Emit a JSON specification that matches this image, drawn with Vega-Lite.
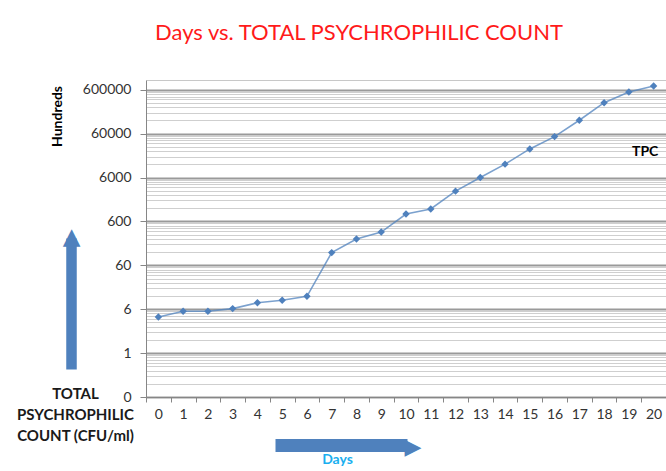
{
  "$schema": "https://vega.github.io/schema/vega-lite/v6.json",
  "width": 520,
  "height": 317,
  "autosize": {"type": "none"},
  "padding": {"left": 146, "top": 80, "right": 0, "bottom": 74},
  "background": "white",
  "view": {"stroke": null},
  "title": {
    "text": "Days vs. TOTAL PSYCHROPHILIC COUNT",
    "anchor": "middle",
    "dx": -47,
    "offset": 18,
    "baseline": "alphabetic",
    "font": "Lato",
    "fontSize": 22,
    "fontWeight": "normal",
    "color": "#FF1A1A"
  },
  "data": {
    "values": [
      {"day": 0, "tpc": 4.0, "series": "TPC"},
      {"day": 1, "tpc": 5.4, "series": "TPC"},
      {"day": 2, "tpc": 5.4, "series": "TPC"},
      {"day": 3, "tpc": 6.2, "series": "TPC"},
      {"day": 4, "tpc": 8.4, "series": "TPC"},
      {"day": 5, "tpc": 9.6, "series": "TPC"},
      {"day": 6, "tpc": 11.8, "series": "TPC"},
      {"day": 7, "tpc": 117, "series": "TPC"},
      {"day": 8, "tpc": 239, "series": "TPC"},
      {"day": 9, "tpc": 344, "series": "TPC"},
      {"day": 10, "tpc": 883, "series": "TPC"},
      {"day": 11, "tpc": 1150, "series": "TPC"},
      {"day": 12, "tpc": 2940, "series": "TPC"},
      {"day": 13, "tpc": 6000, "series": "TPC"},
      {"day": 14, "tpc": 12100, "series": "TPC"},
      {"day": 15, "tpc": 26900, "series": "TPC"},
      {"day": 16, "tpc": 51300, "series": "TPC"},
      {"day": 17, "tpc": 121000, "series": "TPC"},
      {"day": 18, "tpc": 304000, "series": "TPC"},
      {"day": 19, "tpc": 532000, "series": "TPC"},
      {"day": 20, "tpc": 728000, "series": "TPC"}
    ]
  },
  "resolve": {"axis": {"x": "independent", "y": "independent"}},
  "layer": [
    {
      "mark": {
        "type": "line",
        "strokeWidth": 1.6,
        "opacity": 0.75,
        "point": {"shape": "diamond", "size": 55, "filled": true, "opacity": 1}
      },
      "encoding": {
        "x": {
          "field": "day",
          "type": "ordinal",
          "scale": {"type": "band", "paddingInner": 0, "paddingOuter": 0},
          "axis": {
            "orient": "bottom",
            "labelAngle": 0,
            "tickBand": "extent",
            "tickSize": 5,
            "tickColor": "#868686",
            "domainColor": "#868686",
            "grid": false,
            "labelFont": "Lato",
            "labelFontSize": 14,
            "labelColor": "#333333",
            "labelPadding": 5,
            "title": "Days",
            "titleFont": "Lato",
            "titleFontSize": 14,
            "titleFontWeight": "bold",
            "titleColor": "#1AAFEF",
            "titleAlign": "center",
            "titleBaseline": "middle",
            "titleX": 191,
            "titleY": 62
          }
        },
        "y": {
          "field": "tpc",
          "type": "quantitative",
          "scale": {"type": "log", "domain": [0.06, 1000000], "nice": false},
          "axis": {
            "orient": "left",
            "values": [0.06, 0.12, 0.18, 0.24, 0.3, 0.36, 0.42, 0.48, 0.54,
                       0.6, 1.2, 1.8, 2.4, 3, 3.6, 4.2, 4.8, 5.4,
                       6, 12, 18, 24, 30, 36, 42, 48, 54,
                       60, 120, 180, 240, 300, 360, 420, 480, 540,
                       600, 1200, 1800, 2400, 3000, 3600, 4200, 4800, 5400,
                       6000, 12000, 18000, 24000, 30000, 36000, 42000, 48000, 54000,
                       60000, 120000, 180000, 240000, 300000, 360000, 420000, 480000, 540000,
                       600000],
            "labelExpr": "indexof([0.06,0.6,6,60,600,6000,60000,600000], datum.value) >= 0 ? format(datum.value, 'd') : ''",
            "labelOverlap": false,
            "labelBound": false,
            "labelFont": "Lato",
            "labelFontSize": 14,
            "labelColor": "#333333",
            "labelPadding": 9,
            "tickSize": 6,
            "tickColor": "#868686",
            "tickOpacity": {"condition": {"test": "indexof([0.06,0.6,6,60,600,6000,60000,600000], datum.value) >= 0", "value": 1}, "value": 0},
            "domainColor": "#868686",
            "grid": true,
            "gridColor": {"condition": {"test": "indexof([0.06,0.6,6,60,600,6000,60000,600000], datum.value) >= 0", "value": "#9a9a9a"}, "value": "#cfcfcf"},
            "gridWidth": {"condition": {"test": "indexof([0.06,0.6,6,60,600,6000,60000,600000], datum.value) >= 0", "value": 2}, "value": 1},
            "title": "Hundreds",
            "titleFont": "Lato",
            "titleFontSize": 14,
            "titleFontWeight": "bold",
            "titleColor": "#000000",
            "titleAngle": -90,
            "titleAlign": "center",
            "titleBaseline": "middle",
            "titleX": -89,
            "titleY": 36
          }
        },
        "color": {
          "field": "series",
          "type": "nominal",
          "scale": {"range": ["#4F81BD"]},
          "legend": {
            "orient": "none",
            "legendX": 468,
            "legendY": 65,
            "title": null,
            "symbolSize": 0,
            "symbolOpacity": 0,
            "symbolStrokeWidth": 0,
            "labelFont": "Lato",
            "labelFontSize": 14,
            "labelFontWeight": "bold",
            "labelColor": "#000000"
          }
        }
      }
    },
    {
      "mark": {"type": "point", "opacity": 0},
      "encoding": {
        "x": {
          "field": "day",
          "type": "ordinal",
          "axis": {
            "orient": "bottom",
            "offset": 48,
            "labels": false,
            "ticks": false,
            "grid": false,
            "domain": true,
            "domainColor": "#4F81BD",
            "domainWidth": 13,
            "domainCap": "butt",
            "domainDash": [0, 129, 132, 3000],
            "title": "▶",
            "titleFont": "DejaVu Sans",
            "titleFontSize": 22,
            "titleColor": "#4F81BD",
            "titleAlign": "left",
            "titleBaseline": "alphabetic",
            "titleX": 258,
            "titleY": 8
          }
        },
        "y": {
          "field": "tpc",
          "type": "quantitative",
          "axis": {
            "orient": "left",
            "offset": 75,
            "labels": false,
            "ticks": false,
            "grid": false,
            "domain": true,
            "domainColor": "#4F81BD",
            "domainWidth": 10.5,
            "domainCap": "butt",
            "domainDash": [0, 28, 131, 3000],
            "title": "▲",
            "titleFont": "DejaVu Sans",
            "titleFontSize": 23,
            "titleColor": "#4F81BD",
            "titleAngle": 0,
            "titleAlign": "center",
            "titleBaseline": "alphabetic",
            "titleX": 0,
            "titleY": 163
          }
        }
      }
    },
    {
      "mark": {"type": "point", "opacity": 0},
      "encoding": {
        "x": {
          "field": "day",
          "type": "ordinal",
          "axis": {
            "orient": "top",
            "labels": false,
            "ticks": false,
            "grid": false,
            "domain": true,
            "domainColor": "#c8c8c8",
            "title": null
          }
        },
        "y": {
          "field": "tpc",
          "type": "quantitative",
          "axis": {
            "orient": "left",
            "labels": false,
            "ticks": false,
            "grid": false,
            "domain": false,
            "title": ["TOTAL", "PSYCHROPHILIC", "COUNT (CFU/ml)"],
            "titleFont": "Lato",
            "titleFontSize": 15,
            "titleFontWeight": "bold",
            "titleColor": "#1a1a1a",
            "titleAngle": 0,
            "titleAlign": "center",
            "titleBaseline": "alphabetic",
            "titleLineHeight": 21,
            "titleX": -71,
            "titleY": 318
          }
        }
      }
    }
  ]
}
